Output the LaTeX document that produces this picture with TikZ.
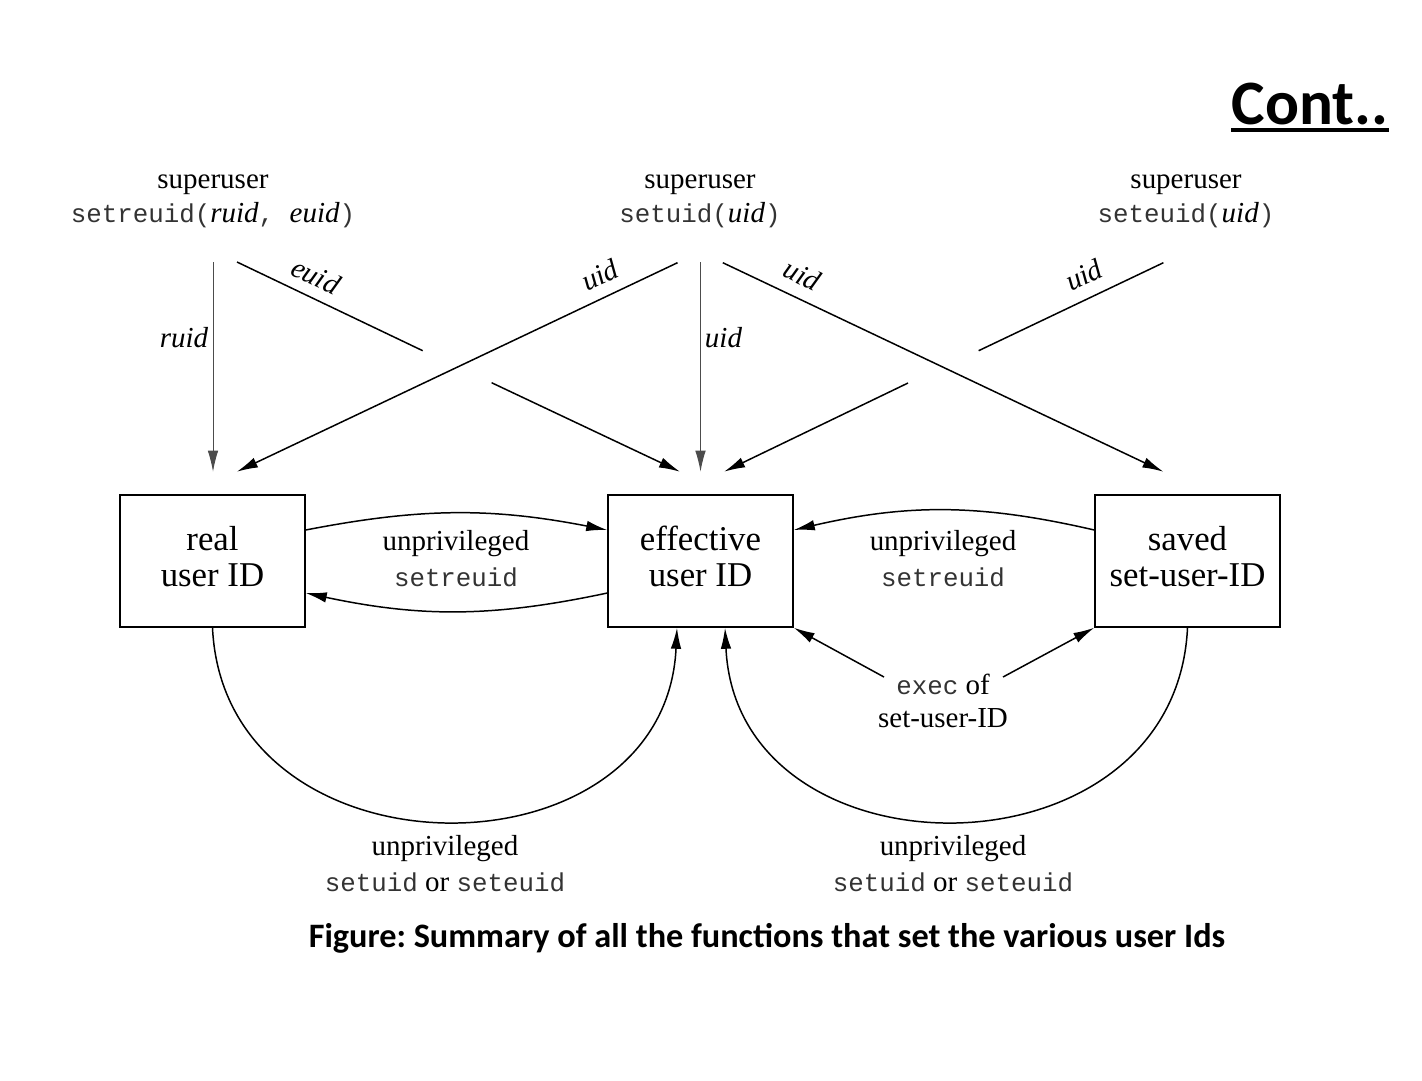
\documentclass[tikz,border=0pt]{standalone}
\usepackage{fontspec}
\setmainfont{Liberation Serif}
\setmonofont{Liberation Mono}
\newfontfamily\calib{Carlito}
\usetikzlibrary{arrows.meta,calc}
\newcommand\mytt[1]{{\fontsize{14.7}{20}\selectfont\ttfamily\color{black!80}#1}}
\newcommand\dropfix{\rule[-5.7pt]{0pt}{5.7pt}}
\frenchspacing
\begin{document}
\begin{tikzpicture}[x=0.02cm,y=0.02cm,
  idbox/.style={draw, line width=0.8pt, minimum width=3.7cm, minimum height=2.64cm,
    align=center, font=\fontsize{19.8}{20.5}\selectfont, inner sep=0pt},
  lbl/.style={align=center, font=\fontsize{16.5}{20.5}\selectfont, inner sep=0pt},
  toplbl/.style={align=center, font=\fontsize{16.5}{19.4}\selectfont, inner sep=0pt},
  ital/.style={font=\fontsize{16.5}{20}\selectfont\itshape, inner sep=0pt},
  arr/.style={-{Latex[length=12pt,width=6pt]}, line width=0.85pt},
  varr/.style={-{Latex[length=12pt,width=6pt]}, line width=0.55pt, draw=black!70},
  seg/.style={line width=0.85pt},
]
\useasboundingbox (0,0) rectangle (1422,-1080);

% boxes
\node[idbox] (real)  at (212.5,-561) {real\\user ID\dropfix};
\node[idbox] (eff)   at (700.5,-561) {effective\\user ID\dropfix};
\node[idbox] (saved) at (1187.5,-561) {saved\\set-user-ID\dropfix};

% top sources
\node[toplbl] (sr) at (213,-201.5) {superuser\\\mytt{setreuid(}\textit{ruid}\mytt{, }\textit{euid}\mytt{)}};
\node[toplbl] (su) at (700,-201.5) {superuser\\\mytt{setuid(}\textit{uid}\mytt{)}};
\node[toplbl] (se) at (1186,-201.5) {superuser\\\mytt{seteuid(}\textit{uid}\mytt{)}};

% connector end points
\coordinate (a1) at (213,-262);     \coordinate (a2) at (213,-471.7);
\coordinate (b1) at (237,-262);     \coordinate (b2) at (422.7,-350.7);
\coordinate (b3) at (491.6,-382.7); \coordinate (b4) at (680,-471.7);
\coordinate (c1) at (677.5,-262.7); \coordinate (c2) at (236.8,-471.7);
\coordinate (d1) at (700.5,-262);   \coordinate (d2) at (700.5,-471.7);
\coordinate (e1) at (722.8,-262.7); \coordinate (e2) at (1163.4,-471.7);
\coordinate (f1) at (1163.4,-262.7);\coordinate (f2) at (978.6,-350.7);
\coordinate (f3) at (908,-383);     \coordinate (f4) at (724,-471.7);

\draw[varr] (a1) -- (a2);
\draw[seg] (b1) -- (b2);
\draw[arr] (b3) -- (b4);
\draw[arr] (c1) -- (c2);
\draw[varr] (d1) -- (d2);
\draw[arr] (e1) -- (e2);
\draw[seg] (f1) -- (f2);
\draw[arr] (f3) -- (f4);

\node[ital] (lr) at (184,-338) {ruid};
\node[ital, rotate=-25.6] (le) at (316,-276) {euid};
\node[ital, rotate=25.6] (lu1) at (600,-275) {uid};
\node[ital] (lu2) at (723.5,-338) {uid};
\node[ital, rotate=-25.6] (lu3) at (802,-275) {uid};
\node[ital, rotate=25.6] (lu4) at (1084,-275) {uid};

% horizontal arcs
\draw[arr] ($(real.east)+(0,31)$) to[bend left=11] ($(eff.west)+(0,31)$);
\draw[arr] ($(eff.west)+(0,-32)$) to[bend left=12] ($(real.east)+(0,-32)$);
\draw[arr] ($(saved.west)+(0,31)$) to[bend right=13] ($(eff.east)+(0,31)$);
\node[lbl] (m1) at (456,-559) {unprivileged\\\mytt{setreuid}};
\node[lbl] (m2) at (943,-559) {unprivileged\\\mytt{setreuid}};

% exec
\node[lbl, font=\fontsize{16.5}{19}\selectfont] (exec) at (943,-701) {\mytt{exec} of\\set-user-ID};
\draw[arr] ($(exec.center)+(-59,24)$) -- (eff.south east);
\draw[arr] ($(exec.center)+(60,24)$) -- (saved.south west);

% bottom arcs
\draw[seg, -{Latex[length=12pt,width=6pt]}] (real.south) .. controls ($(real.south)+(12,-257)$) and ($(eff.south)+(-35.5,-257)$) .. ($(eff.south)+(-23.5,0)$);
\draw[seg, -{Latex[length=12pt,width=6pt]}] (saved.south) .. controls ($(saved.south)+(-12,-257)$) and ($(eff.south)+(36.5,-257)$) .. ($(eff.south)+(24.5,0)$);
\node[lbl] (bl) at (445,-864) {unprivileged\\\mytt{setuid} or \mytt{seteuid}};
\node[lbl] (br) at (953,-864) {unprivileged\\\mytt{setuid} or \mytt{seteuid}};

% caption and heading
\node[font=\calib\bfseries\fontsize{19.5}{22}\selectfont, inner sep=0pt] (cap) at (767,-938) {Figure: Summary of all the functions that set the various user Ids};
\node[font=\calib\bfseries\fontsize{36}{40}\selectfont, inner sep=0pt, anchor=base] (cont) at (1310,-124) {Cont..};
\draw[line width=2.3pt] ($(cont.base west)+(0,-6)$) -- ($(cont.base east)+(0,-6)$);
\end{tikzpicture}
\end{document}
